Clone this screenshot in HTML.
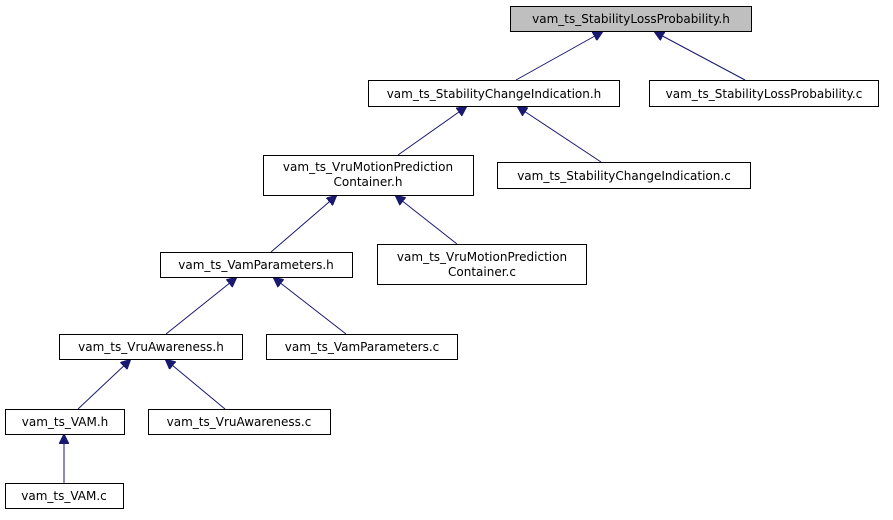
<!DOCTYPE html>
<html><head><meta charset="utf-8"><style>
html,body{margin:0;padding:0;background:#fff;}
svg text{font-family:"DejaVu Sans","Liberation Sans",sans-serif;font-size:12px;fill:#000;}
</style></head><body>
<svg width="893" height="515" viewBox="0 0 893 515" xmlns="http://www.w3.org/2000/svg">
<defs>
<marker id="a" markerWidth="10" markerHeight="10" refX="9" refY="5" orient="auto" markerUnits="userSpaceOnUse">
<path d="M0,0 L10,5 L0,10 z" fill="#191970" stroke="#191970"/>
</marker>
</defs>
<g stroke="#191970" stroke-width="1" fill="none" marker-end="url(#a)">
<line x1="516" y1="80" x2="602" y2="32"/>
<line x1="745" y1="80" x2="655" y2="32"/>
<line x1="398" y1="155" x2="466" y2="107"/>
<line x1="601" y1="162" x2="518" y2="107"/>
<line x1="271" y1="252" x2="336" y2="196"/>
<line x1="457" y1="244" x2="396" y2="196"/>
<line x1="166" y1="334" x2="236" y2="278"/>
<line x1="346" y1="334" x2="274" y2="278"/>
<line x1="78" y1="409" x2="130" y2="360"/>
<line x1="225" y1="409" x2="166" y2="360"/>
<line x1="64" y1="483" x2="64" y2="435"/>
</g>
<g stroke="#000" stroke-width="1">
<rect x="510.5" y="6.5" width="241" height="25" fill="#bfbfbf"/>
<rect x="368.5" y="80.5" width="251" height="26" fill="#fff"/>
<rect x="649.5" y="80.5" width="229" height="26" fill="#fff"/>
<rect x="263.5" y="155.5" width="210" height="40" fill="#fff"/>
<rect x="497.5" y="162.5" width="253" height="26" fill="#fff"/>
<rect x="160.5" y="252.5" width="192" height="25" fill="#fff"/>
<rect x="377.5" y="244.5" width="209" height="40" fill="#fff"/>
<rect x="59.5" y="334.5" width="183" height="25" fill="#fff"/>
<rect x="266.5" y="334.5" width="191" height="25" fill="#fff"/>
<rect x="5.5" y="409.5" width="119" height="25" fill="#fff"/>
<rect x="148.5" y="409.5" width="182" height="25" fill="#fff"/>
<rect x="5.5" y="483.5" width="118" height="25" fill="#fff"/>
</g>
<g text-anchor="middle">
<text x="631" y="23">vam_ts_StabilityLossProbability.h</text>
<text x="494" y="98">vam_ts_StabilityChangeIndication.h</text>
<text x="764" y="98">vam_ts_StabilityLossProbability.c</text>
<text x="368" y="171">vam_ts_VruMotionPrediction</text>
<text x="368" y="186">Container.h</text>
<text x="624" y="180">vam_ts_StabilityChangeIndication.c</text>
<text x="256" y="269">vam_ts_VamParameters.h</text>
<text x="482" y="261">vam_ts_VruMotionPrediction</text>
<text x="482" y="276">Container.c</text>
<text x="151" y="351">vam_ts_VruAwareness.h</text>
<text x="362" y="351">vam_ts_VamParameters.c</text>
<text x="65" y="426">vam_ts_VAM.h</text>
<text x="239" y="426">vam_ts_VruAwareness.c</text>
<text x="64" y="500">vam_ts_VAM.c</text>
</g>
</svg>
</body></html>
